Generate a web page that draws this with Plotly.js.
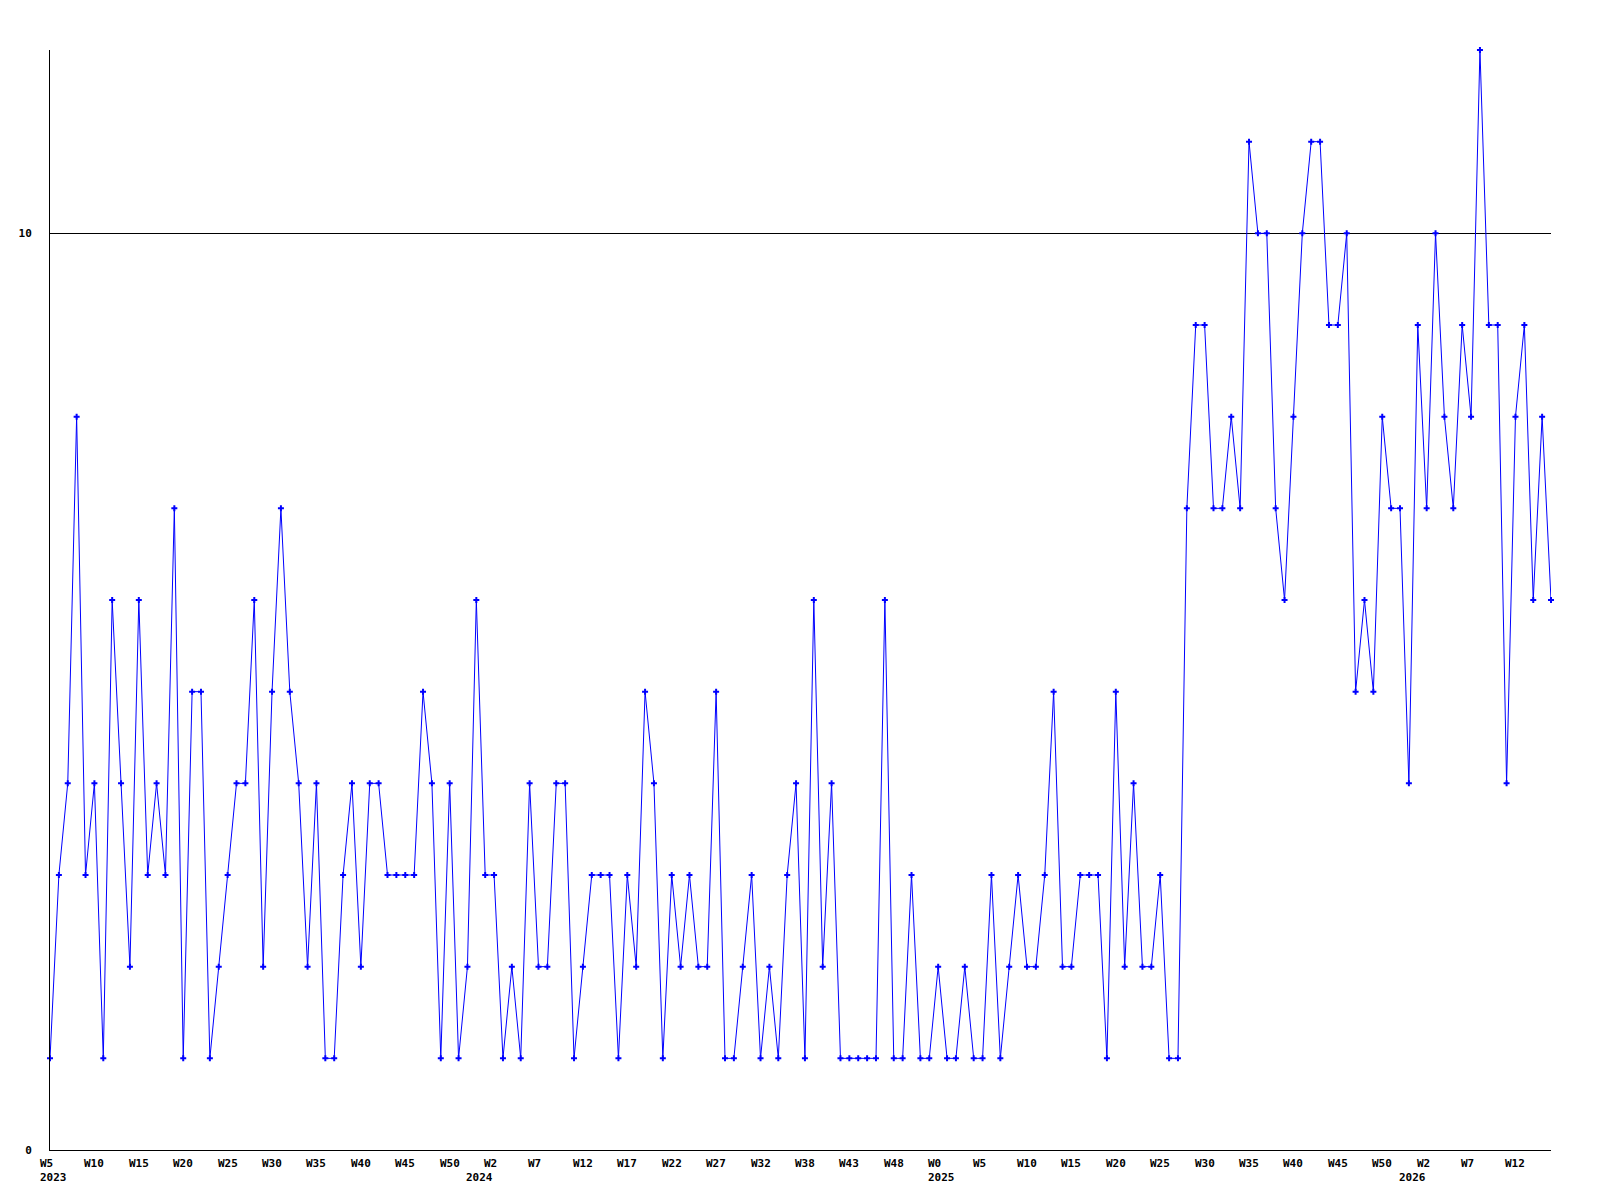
<!DOCTYPE html>
<html>
<head>
<meta charset="utf-8">
<script src="https://cdn.plot.ly/plotly-3.0.1.min.js"></script>
<style>
html,body{margin:0;padding:0;background:#fff;}
#chart{width:1600px;height:1200px;}
</style>
</head>
<body>
<div id="chart"></div>
<script>
// Weekly values, one per point (170 points)
const values = [
  1,3,4,8,3,4,1,6,4,2,
  6,3,4,3,7,1,5,5,1,2,
  3,4,4,6,2,5,7,5,4,2,
  4,1,1,3,4,2,4,4,3,3,
  3,3,5,4,1,4,1,2,6,3,
  3,1,2,1,4,2,2,4,4,1,
  2,3,3,3,1,3,2,5,4,1,
  3,2,3,2,2,5,1,1,2,3,
  1,2,1,3,4,1,6,2,4,1,
  1,1,1,1,6,1,1,3,1,1,
  2,1,1,2,1,1,3,1,2,3,
  2,2,3,5,2,2,3,3,3,1,
  5,2,4,2,2,3,1,1,7,9,
  9,7,7,8,7,11,10,10,7,6,
  8,10,11,11,9,9,10,5,6,5,
  8,7,7,4,9,7,10,8,7,9,
  8,12,9,9,4,8,9,6,8,6
];

// Week tick labels: shown every 5 points
const tickWeeks = [
  "W5","W10","W15","W20","W25","W30","W35","W40","W45","W50",
  "W2","W7","W12","W17","W22","W27","W32","W38","W43","W48",
  "W0","W5","W10","W15","W20","W25","W30","W35","W40","W45",
  "W50","W2","W7","W12"
];
// Year labels and the point index where each year starts
const yearLabels = ["2023","2024","2025","2026"];
const yearStartIndex = [0, 48, 100, 153];

const tickStep = 5;
const xs = values.map((v, i) => i);

const fontMono = {family: "DejaVu Sans Mono", size: 11, color: "#000", weight: "bold"};

const annotations = [];
tickWeeks.forEach((w, k) => {
  annotations.push({
    x: k * tickStep, xref: "x",
    y: 0, yref: "paper",
    text: w, showarrow: false,
    xanchor: "left", yanchor: "top", align: "left",
    xshift: -12, yshift: -5,
    font: fontMono
  });
});
yearLabels.forEach((yl, k) => {
  annotations.push({
    x: yearStartIndex[k], xref: "x",
    y: 0, yref: "paper",
    text: yl, showarrow: false,
    xanchor: "left", yanchor: "top", align: "left",
    xshift: -12, yshift: -19,
    font: fontMono
  });
});

const trace = {
  x: xs, y: values,
  type: "scatter", mode: "lines+markers",
  line: {color: "#0000ff", width: 1},
  marker: {symbol: "cross", size: 5, color: "#0000ff", line: {width: 0}},
  cliponaxis: false,
  hoverinfo: "skip"
};

const layout = {
  width: 1600, height: 1200,
  margin: {l: 50, r: 49, t: 50, b: 50},
  paper_bgcolor: "#fff", plot_bgcolor: "#fff",
  showlegend: false,
  xaxis: {
    range: [0, values.length - 1],
    showgrid: false, zeroline: false,
    showline: true, linecolor: "#000", linewidth: 1,
    showticklabels: false, ticks: ""
  },
  yaxis: {
    range: [0, 12],
    tickvals: [0, 10], ticktext: ["0", "10"],
    showgrid: true, gridcolor: "#000", gridwidth: 1,
    zeroline: false,
    showline: true, linecolor: "#000", linewidth: 1,
    ticks: "", ticklabelstandoff: 15,
    tickfont: fontMono
  },
  annotations: annotations
};

Plotly.newPlot("chart", [trace], layout, {staticPlot: true, displayModeBar: false});
</script>
</body>
</html>
